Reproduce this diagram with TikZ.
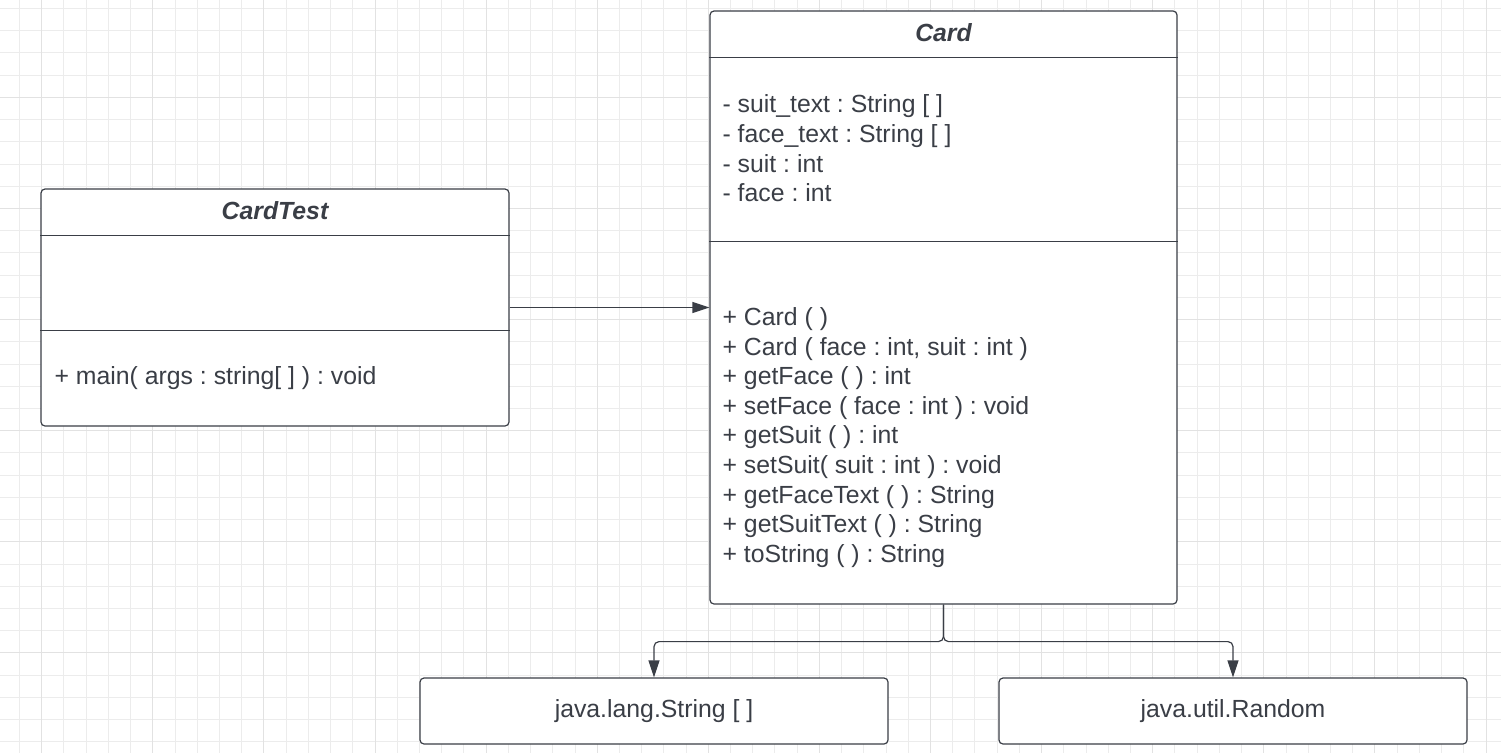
\documentclass[tikz,border=0pt]{standalone}
\usepackage{fontspec}
\setmainfont{Liberation Sans}
\usepackage{xcolor}
\usepackage{tikz}
\usetikzlibrary{
  arrows.meta,
  positioning,
  calc,
  backgrounds
}

\definecolor{umlink}{RGB}{58,62,70}
\definecolor{gridlo}{RGB}{236,236,236}
\definecolor{gridhi}{RGB}{226,226,226}
\frenchspacing

\begin{document}
\begin{tikzpicture}[
    x=1pt, y=-1pt,
    umlbox/.style={draw=umlink, line width=1.2pt, rounded corners=4pt,
                   inner sep=0pt, fill=white},
    sep/.style={draw=umlink, line width=1.2pt},
    title/.style={font=\fontsize{24.8}{29.6}\selectfont\bfseries\itshape,
                  text=umlink},
    members/.style={font=\fontsize{24.8}{29.6}\selectfont, text=umlink,
                    align=left, anchor=west, inner sep=0pt},
    arr/.style={-{Triangle[length=17pt, width=11pt]}, draw=umlink,
                line width=1.2pt},
    glo/.style={draw=gridlo, line width=1pt},
    ghi/.style={draw=gridhi, line width=1pt},
  ]
  \useasboundingbox (0,0) rectangle (1501,753);

  % ---- Grid ----
  \foreach \i in {0,...,67}
    \draw[glo] ({19.5+22.22*\i},0) -- ++(0,753);
  \foreach \i in {0,...,33}
    \draw[glo] (0,{8.5+22.22*\i}) -- ++(1501,0);
  \foreach \i in {0,...,13}
    \draw[ghi] ({41.7+111.1*\i},0) -- ++(0,753);
  \foreach \i in {0,...,6}
    \draw[ghi] (0,{97.3+111.1*\i}) -- ++(1501,0);

  % ---- Classes ----
  \node[umlbox, minimum width=468pt, minimum height=237pt]
    (cardtest) at (275,307.5) {};
  \node[umlbox, minimum width=467pt, minimum height=593pt]
    (card) at (943.5,307.5) {};

  % ---- Library types ----
  \node[umlbox, minimum width=468pt, minimum height=66pt,
        font=\fontsize{24.8}{29.6}\selectfont, text=umlink]
    (strtype) at (654,711) {java.lang.String [ ]};
  \node[umlbox, minimum width=468pt, minimum height=66pt,
        font=\fontsize{24.8}{29.6}\selectfont, text=umlink]
    (rndtype) at (1233,711) {java.util.Random};

  % ---- CardTest compartments ----
  \draw[sep] ([yshift=-47pt]cardtest.north west)
    -- ([yshift=-47pt]cardtest.north east);
  \draw[sep] ([yshift=-142pt]cardtest.north west)
    -- ([yshift=-142pt]cardtest.north east);
  \node[title] at ([yshift=-22pt]cardtest.north) {CardTest};
  \node[members] (ctops) at ([xshift=14pt, yshift=-190pt]cardtest.north west)
    {+ main( args : string[ ] ) : void};

  % ---- Card compartments ----
  \draw[sep] ([yshift=-47pt]card.north west)
    -- ([yshift=-47pt]card.north east);
  \draw[sep] ([yshift=-231pt]card.north west)
    -- ([yshift=-231pt]card.north east);
  \node[title] at ([yshift=-22pt]card.north) {Card};
  \node[members] (cardattr) at ([xshift=13pt, yshift=-138pt]card.north west)
    {- suit\_text : String [ ]\\
     - face\_text : String [ ]\\
     - suit : int\\
     - face : int};
  \node[members] (cardops) at ([xshift=13pt, yshift=-427pt]card.north west)
    {+ Card ( )\\
     + Card ( face : int, suit : int )\\
     + getFace ( ) : int\\
     + setFace ( face : int ) : void\\
     + getSuit ( ) : int\\
     + setSuit( suit : int ) : void\\
     + getFaceText ( ) : String\\
     + getSuitText ( ) : String\\
     + toString ( ) : String};

  % ---- Arrows ----
  \draw[arr] (cardtest.east) -- (card.west);
  \coordinate (split) at ([yshift=-37pt]card.south);
  \draw[arr, rounded corners=5pt] (card.south) -- (split) -| (strtype.north);
  \draw[arr, rounded corners=5pt] (card.south) -- (split) -| (rndtype.north);

\end{tikzpicture}
\end{document}
